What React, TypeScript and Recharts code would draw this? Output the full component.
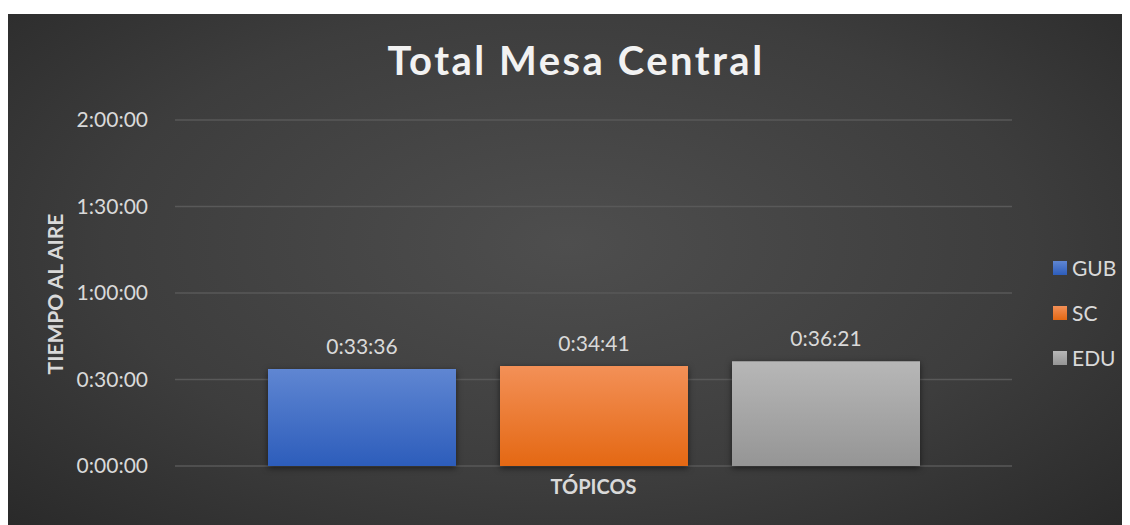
import React from "react";
import { BarChart, Bar, XAxis, YAxis, CartesianGrid, LabelList } from "recharts";

const categories = ["TÓPICOS"];
const seriesNames = ["GUB", "SC", "EDU"];
// seconds on air
const gubValues = [2016];
const scValues = [2081];
const eduValues = [2181];
const yTicks = [0, 1800, 3600, 5400, 7200];

const data = categories.map((name, i) => ({
  name,
  GUB: gubValues[i],
  SC: scValues[i],
  EDU: eduValues[i],
}));

const colors: Record<string, [string, string]> = {
  GUB: ["#5f86d2", "#2d5dbb"],
  SC: ["#f39057", "#e46813"],
  EDU: ["#b7b7b7", "#959595"],
};

const font = "Lato, 'Open Sans', sans-serif";

const fmt = (v: number) => {
  const h = Math.floor(v / 3600);
  const m = Math.floor((v % 3600) / 60);
  const s = Math.floor(v % 60);
  return `${h}:${String(m).padStart(2, "0")}:${String(s).padStart(2, "0")}`;
};

const YTick = (props: any) => {
  const { x, y, payload } = props;
  return (
    <text x={x - 19} y={y} dy={7} textAnchor="end" fill="#d9d9d9" fontSize={21} fontFamily={font}>
      {fmt(payload.value)}
    </text>
  );
};

const LegendBox = () => (
  <div style={{ position: "absolute", left: 1047, top: 231, fontFamily: font }}>
    {seriesNames.map((n) => (
      <div key={n} style={{ display: "flex", alignItems: "center", height: 45 }}>
        <div
          style={{
            width: 14,
            height: 14,
            marginRight: 5,
            background: `linear-gradient(${colors[n][0]}, ${colors[n][1]})`,
          }}
        />
        <span style={{ color: "#d9d9d9", fontSize: 21 }}>{n}</span>
      </div>
    ))}
  </div>
);

export default function App() {
  return (
    <div
      style={{
        position: "relative",
        marginLeft: -2,
        marginTop: 6,
        width: 1124,
        height: 511,
        background: "radial-gradient(ellipse 75% 85% at 50% 45%, #4e4e4e 0%, #3d3d3d 55%, #262626 100%)",
      }}
    >
      <div
        style={{
          position: "absolute",
          top: 22,
          left: 0,
          width: 1140,
          textAlign: "center",
          color: "#f2f2f2",
          fontFamily: font,
          fontWeight: 700,
          fontSize: 40,
          letterSpacing: 2.5,
        }}
      >
        Total Mesa Central
      </div>
      <BarChart
        width={1124}
        height={511}
        data={data}
        margin={{ top: 106, right: 118, bottom: 29, left: -2 }}
        barGap={44}
        barSize={188}
        style={{ position: "absolute", left: 0, top: 0 }}
      >
        <defs>
          {seriesNames.map((n) => (
            <linearGradient key={n} id={`grad-${n}`} x1="0" y1="0" x2="0" y2="1">
              <stop offset="0%" stopColor={colors[n][0]} />
              <stop offset="100%" stopColor={colors[n][1]} />
            </linearGradient>
          ))}
        </defs>
        <CartesianGrid vertical={false} stroke="#595959" strokeWidth={1.5} />
        <XAxis
          dataKey="name"
          height={30}
          tick={false}
          axisLine={false}
          tickLine={false}
          label={(p: any) => (
            <text
              x={p.viewBox.x + p.viewBox.width / 2}
              y={p.viewBox.y + 28}
              textAnchor="middle"
              fill="#d9d9d9"
              fontFamily={font}
              fontWeight={700}
              fontSize={20}
            >
              TÓPICOS
            </text>
          )}
        />
        <YAxis
          width={171}
          domain={[0, 7200]}
          ticks={yTicks}
          axisLine={false}
          tickLine={false}
          tick={<YTick />}
          label={() => (
            <text
              x={52}
              y={280}
              transform="rotate(-90 52 280)"
              textAnchor="middle"
              dominantBaseline="middle"
              fill="#d9d9d9"
              fontFamily={font}
              fontWeight={700}
              fontSize={21}
            >
              TIEMPO AL AIRE
            </text>
          )}
        />
        {seriesNames.map((n) => (
          <Bar
            key={n}
            dataKey={n}
            fill={`url(#grad-${n})`}
            isAnimationActive={false}
            style={{ filter: "drop-shadow(0px 2px 3px rgba(0,0,0,0.55))" }}
          >
            <LabelList
              dataKey={n}
              position="top"
              offset={15}
              formatter={(v: any) => fmt(Number(v))}
              fill="#d9d9d9"
              fontSize={21}
              fontFamily={font}
            />
          </Bar>
        ))}
      </BarChart>
      <LegendBox />
    </div>
  );
}
